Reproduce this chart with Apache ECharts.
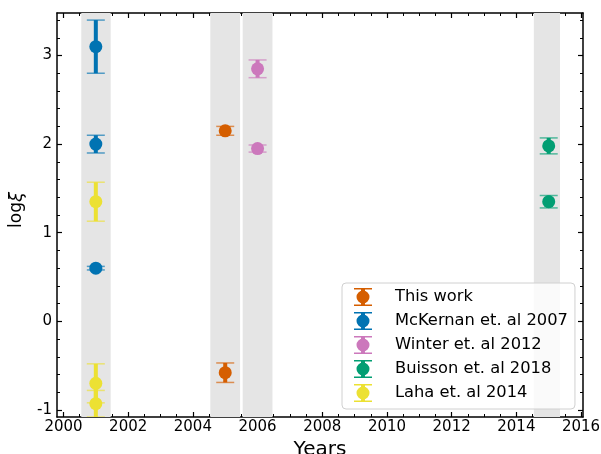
<!DOCTYPE html>
<html>
<head>
<meta charset="utf-8">
<script src="https://cdn.jsdelivr.net/npm/echarts@6/dist/echarts.min.js"></script>
<style>html,body{margin:0;padding:0;background:#fff;}#c{width:601px;height:454px;}</style>
</head>
<body>
<div id="c"></div>
<script>
// ---- data (year, log xi, error) ----
const thisWork = [[2005, 2.15, 0.05], [2005, -0.58, 0.11]];
const mckernan = [[2001, 3.10, 0.30], [2001, 2.00, 0.10], [2001, 0.60, 0.02]];
const winter   = [[2006, 2.85, 0.10], [2006, 1.95, 0.04]];
const buisson  = [[2015, 1.98, 0.09], [2015, 1.35, 0.07]];
const laha     = [[2001, 1.35, 0.22], [2001, -0.70, 0.22], [2001, -0.93, 0.15]];
const seriesNames = ['This work', 'McKernan et. al 2007', 'Winter et. al 2012', 'Buisson et. al 2018', 'Laha et. al 2014'];
const seriesColors = ['#d55e00', '#0173b2', '#cc78bc', '#029e73', '#ece133'];
const bands = [[2000.55, 2001.46], [2004.54, 2005.46], [2005.54, 2006.46], [2014.54, 2015.35]];
const xTicks = [2000, 2002, 2004, 2006, 2008, 2010, 2012, 2014, 2016];
const yTicks = [-1, 0, 1, 2, 3];
const xRange = [1999.8, 2016.06];
const yRange = [-1.08, 3.48];

const xMinor = [];
for (let v = 2000; v <= 2016.001; v += 0.5) xMinor.push(+v.toFixed(2));
const yMinor = [];
for (let v = -1; v <= 3.401; v += 0.2) yMinor.push(+v.toFixed(2));

const FONT = 'DejaVu Sans';
const allData = [thisWork, mckernan, winter, buisson, laha];

function renderItem(params, api) {
  const x = api.value(0), y = api.value(1), e = api.value(2);
  const c = api.coord([x, y]);
  const t = api.coord([x, y + e]);
  const b = api.coord([x, y - e]);
  const color = api.visual('color');
  return {
    type: 'group',
    children: [
      {type: 'line', shape: {x1: c[0], y1: t[1], x2: c[0], y2: b[1]}, style: {stroke: color, lineWidth: 4}},
      {type: 'line', shape: {x1: c[0] - 9, y1: t[1], x2: c[0] + 9, y2: t[1]}, style: {stroke: color, lineWidth: 1.5, opacity: 0.65}},
      {type: 'line', shape: {x1: c[0] - 9, y1: b[1], x2: c[0] + 9, y2: b[1]}, style: {stroke: color, lineWidth: 1.5, opacity: 0.65}},
      {type: 'circle', shape: {cx: c[0], cy: c[1], r: 6.5}, style: {fill: color}}
    ]
  };
}

const legendIcon = 'path://M0,0H18V1.5H0Z M0,16.5H18V18H0Z M7,0H11V18H7Z M2.5,9A6.5,6.5 0 1,1 15.5,9A6.5,6.5 0 1,1 2.5,9Z';

const gridBox = {left: 57, right: 18, top: 13, bottom: 37, outerBoundsMode: 'none', containLabel: false};
const axisLineStyle = {show: true, onZero: false, lineStyle: {color: '#000', width: 1.5}};
const noLine = {show: false, onZero: false};
const plain = v => String(Math.round(v));

const option = {
  animation: false,
  backgroundColor: '#fff',
  textStyle: {fontFamily: FONT},
  grid: [Object.assign({}, gridBox), Object.assign({}, gridBox)],
  legend: {
    show: true,
    orient: 'vertical',
    left: 342, top: 283,
    data: seriesNames,
    icon: legendIcon,
    itemWidth: 18, itemHeight: 18, itemGap: 6,
    padding: [5, 7, 7, 12],
    backgroundColor: 'rgba(255,255,255,0.8)',
    borderColor: '#d0d0d0', borderWidth: 1, borderRadius: 4,
    textStyle: {fontFamily: FONT, fontSize: 16.3, color: '#000', padding: [0, 0, 0, 18], lineHeight: 18},
    selectedMode: false
  },
  xAxis: [
    {type: 'value', gridIndex: 0, position: 'bottom', min: xRange[0], max: xRange[1],
     name: 'Years', nameLocation: 'middle', nameGap: 17,
     nameTextStyle: {fontFamily: FONT, fontSize: 20, color: '#000'},
     axisLine: axisLineStyle,
     axisTick: {show: true, inside: true, length: 5, lineStyle: {color: '#000', width: 1.2}, customValues: xTicks},
     axisLabel: {show: true, customValues: xTicks, formatter: plain, margin: 3, fontSize: 15, color: '#000', fontFamily: FONT},
     splitLine: {show: false}},
    {type: 'value', gridIndex: 0, position: 'top', min: xRange[0], max: xRange[1],
     axisLine: axisLineStyle,
     axisTick: {show: true, inside: true, length: 5, lineStyle: {color: '#000', width: 1.2}, customValues: xTicks},
     axisLabel: {show: false}, splitLine: {show: false}},
    {type: 'value', gridIndex: 1, position: 'bottom', min: xRange[0], max: xRange[1],
     axisLine: noLine,
     axisTick: {show: true, inside: true, length: 3, lineStyle: {color: '#000', width: 1}, customValues: xMinor},
     axisLabel: {show: false}, splitLine: {show: false}},
    {type: 'value', gridIndex: 1, position: 'top', min: xRange[0], max: xRange[1],
     axisLine: noLine,
     axisTick: {show: true, inside: true, length: 3, lineStyle: {color: '#000', width: 1}, customValues: xMinor},
     axisLabel: {show: false}, splitLine: {show: false}}
  ],
  yAxis: [
    {type: 'value', gridIndex: 0, position: 'left', min: yRange[0], max: yRange[1],
     name: '{a|log}{b|ξ}', nameLocation: 'middle', nameGap: 31, nameRotate: 90,
     nameTextStyle: {fontFamily: FONT, fontSize: 17, color: '#000', padding: [0, 0, 0, 10],
       rich: {a: {fontFamily: FONT, fontSize: 17, color: '#000'}, b: {fontFamily: FONT, fontSize: 18, fontStyle: 'italic', color: '#000'}}},
     axisLine: axisLineStyle,
     axisTick: {show: true, inside: true, length: 5, lineStyle: {color: '#000', width: 1.2}, customValues: yTicks},
     axisLabel: {show: true, customValues: yTicks, formatter: plain, margin: 5, fontSize: 15, color: '#000', fontFamily: FONT},
     splitLine: {show: false}},
    {type: 'value', gridIndex: 0, position: 'right', min: yRange[0], max: yRange[1],
     axisLine: axisLineStyle,
     axisTick: {show: true, inside: true, length: 5, lineStyle: {color: '#000', width: 1.2}, customValues: yTicks},
     axisLabel: {show: false}, splitLine: {show: false}},
    {type: 'value', gridIndex: 1, position: 'left', min: yRange[0], max: yRange[1],
     axisLine: noLine,
     axisTick: {show: true, inside: true, length: 3, lineStyle: {color: '#000', width: 1}, customValues: yMinor},
     axisLabel: {show: false}, splitLine: {show: false}},
    {type: 'value', gridIndex: 1, position: 'right', min: yRange[0], max: yRange[1],
     axisLine: noLine,
     axisTick: {show: true, inside: true, length: 3, lineStyle: {color: '#000', width: 1}, customValues: yMinor},
     axisLabel: {show: false}, splitLine: {show: false}}
  ],
  series: []
};

const series = allData.map((d, i) => ({
  name: seriesNames[i],
  type: 'custom',
  xAxisIndex: 0, yAxisIndex: 0,
  renderItem: renderItem,
  clip: true,
  itemStyle: {color: seriesColors[i]},
  encode: {x: 0, y: 1},
  data: d,
  z: 3
}));
series.push({
  type: 'custom', name: 'bands', xAxisIndex: 0, yAxisIndex: 0,
  renderItem: () => null, data: [], silent: true, z: 1,
  markArea: {
    silent: true,
    itemStyle: {color: '#e5e5e5'},
    data: bands.map(b => [{xAxis: b[0]}, {xAxis: b[1]}])
  }
});
option.series = series;

const chart = echarts.init(document.getElementById('c'), null, {renderer: 'canvas'});
chart.setOption(option);
</script>
</body>
</html>
